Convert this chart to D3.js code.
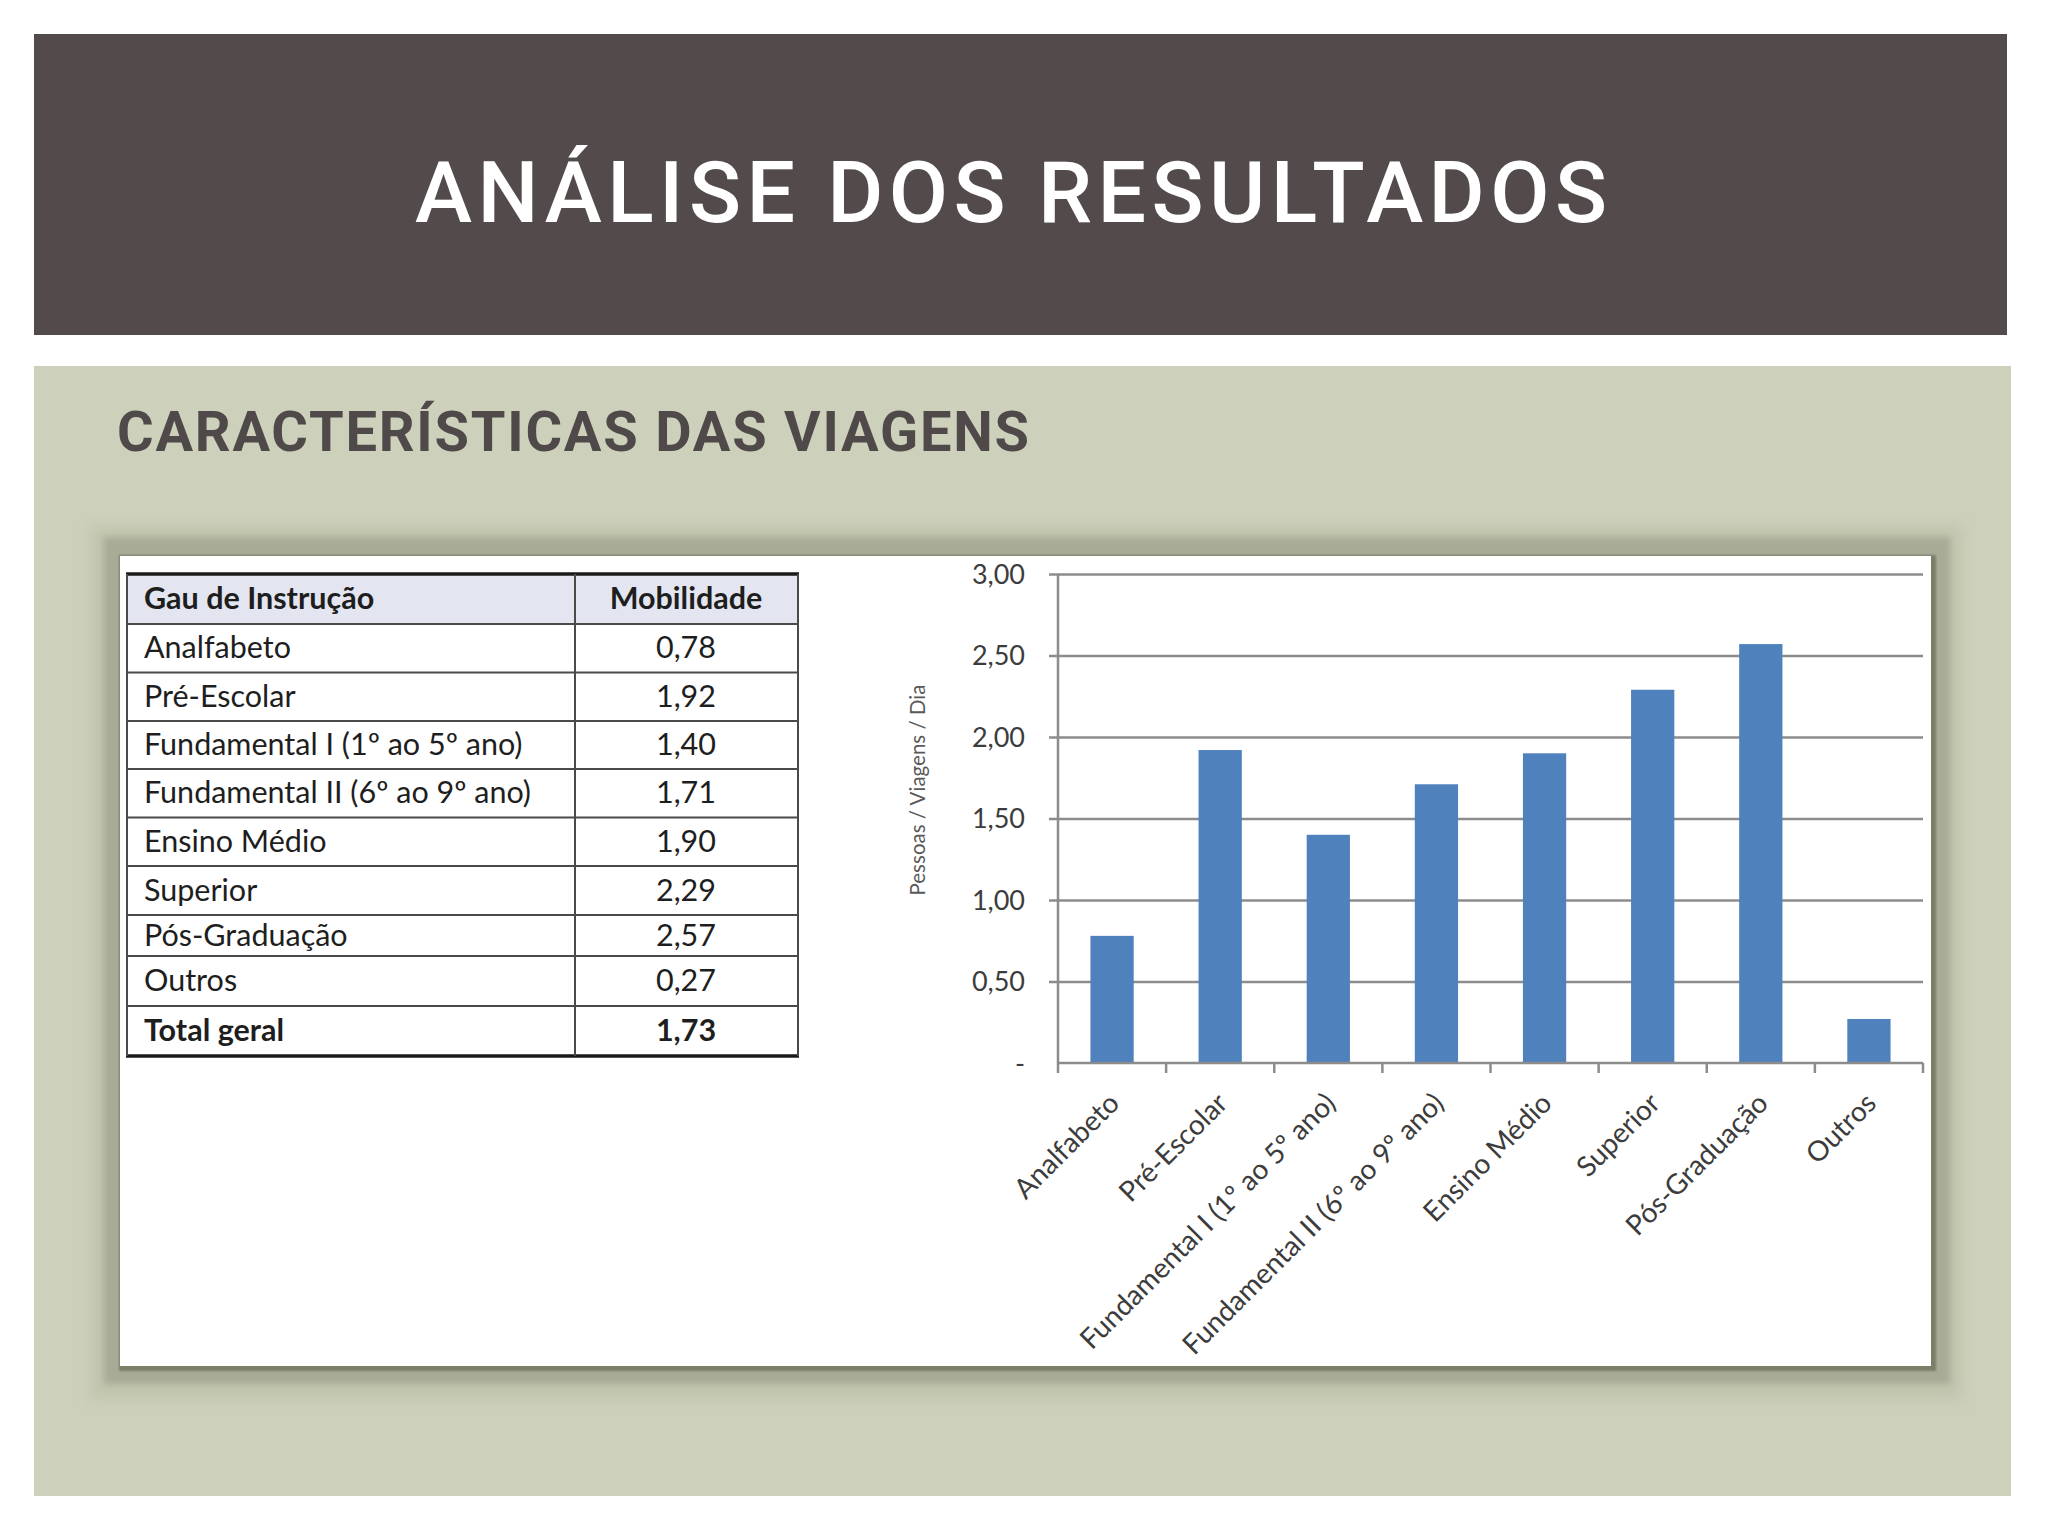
<!DOCTYPE html>
<html><head><meta charset="utf-8">
<script src="https://cdn.jsdelivr.net/npm/d3@7"></script>
<style>html,body{margin:0;padding:0;background:#fff;}svg{display:block;}</style>
</head><body>
<script>
// ---- data ----
const categories = ["Analfabeto","Pré-Escolar","Fundamental I (1º ao 5º ano)","Fundamental II (6º ao 9º ano)","Ensino Médio","Superior","Pós-Graduação","Outros"];
const values = [0.78,1.92,1.40,1.71,1.90,2.29,2.57,0.27];
const totalLabel = "Total geral";
const totalValue = 1.73;
const tableHeaders = ["Gau de Instrução","Mobilidade"];
const yTicks = [0,0.5,1,1.5,2,2.5,3];
const yTickLabels = ["-","0,50","1,00","1,50","2,00","2,50","3,00"];
const yTitle = "Pessoas / Viagens / Dia";
const title = "ANÁLISE DOS RESULTADOS";
const subtitle = "CARACTERÍSTICAS DAS VIAGENS";

const W = 2048, H = 1536;
const svg = d3.select("body").append("svg").attr("width", W).attr("height", H);
const defs = svg.append("defs");
[["b6",7],["b3",3],["b1",1]].forEach(([id,s])=>{
  defs.append("filter").attr("id",id).attr("x","-10%").attr("y","-10%").attr("width","120%").attr("height","120%")
    .append("feGaussianBlur").attr("stdDeviation",s);
});

// header
svg.append("rect").attr("x",34).attr("y",34).attr("width",1973).attr("height",301).attr("fill","#524a4b");
svg.append("text").attr("x",415).attr("y",222).attr("textLength",1192).attr("lengthAdjust","spacing")
  .attr("font-family","Roboto").attr("font-size",86).attr("font-weight",500).attr("fill","#ffffff").text(title);

// panel
svg.append("rect").attr("x",34).attr("y",366).attr("width",1977).attr("height",1130).attr("fill","#cdd0ba");
svg.append("text").attr("x",117).attr("y",451).attr("textLength",912).attr("lengthAdjust","spacing")
  .attr("font-family","Roboto").attr("font-size",56).attr("font-weight",700).attr("fill","#4f4a49").text(subtitle);

// picture frame with shadow
svg.append("rect").attr("x",90).attr("y",526).attr("width",1872).attr("height",874).attr("fill","#c1c4ad").attr("filter","url(#b6)");
svg.append("rect").attr("x",104).attr("y",537).attr("width",1846).attr("height",847).attr("fill","#a8ab96").attr("filter","url(#b3)");
svg.append("rect").attr("x",119).attr("y",555).attr("width",1817).attr("height",816).attr("fill","#7b7e68").attr("filter","url(#b1)");
svg.append("rect").attr("x",120).attr("y",556).attr("width",1811).attr("height",810).attr("fill","#ffffff");

// ---- table ----
const tbl = svg.append("g");
const colX = [127,575,798];
const rowY = [574,624,672.5,721,769,817.5,866,915,956,1006,1056];
const rows = [tableHeaders].concat(categories.map((c,i)=>[c, d3.format(".2f")(values[i]).replace(".",",")]))
  .concat([[totalLabel, d3.format(".2f")(totalValue).replace(".",",")]]);
tbl.append("rect").attr("x",colX[0]).attr("y",rowY[0]).attr("width",colX[2]-colX[0]).attr("height",rowY[1]-rowY[0]).attr("fill","#e3e6f0");
rows.forEach((r,i)=>{
  const y0 = rowY[i], y1 = rowY[i+1], yc = (y0+y1)/2;
  const bold = (i===0 || i===rows.length-1);
  tbl.append("text").attr("x",144).attr("y",yc+10).attr("font-family","Lato").attr("font-size",30.5)
    .attr("font-weight",bold?700:400).attr("fill","#1e1e1e").text(r[0]);
  tbl.append("text").attr("x",686).attr("y",yc+10).attr("text-anchor","middle").attr("font-family","Lato").attr("font-size",30.5)
    .attr("font-weight",bold?700:400).attr("fill","#1e1e1e").text(r[1]);
});
rowY.forEach((y,i)=>{
  const thick = (i===0 || i===rowY.length-1);
  tbl.append("line").attr("x1",colX[0]-1).attr("x2",colX[2]+1).attr("y1",y).attr("y2",y)
    .attr("stroke",thick?"#1a1a1a":"#4a4a4a").attr("stroke-width",thick?3.5:2);
});
colX.forEach(x=>{
  tbl.append("line").attr("x1",x).attr("x2",x).attr("y1",rowY[0]).attr("y2",rowY[rowY.length-1])
    .attr("stroke","#4a4a4a").attr("stroke-width",2);
});

// ---- chart ----
const x0 = 1058, x1 = 1923, yTop = 574, yBot = 1063;
const x = d3.scaleBand().domain(categories).range([x0,x1]).paddingInner(0.6).paddingOuter(0.3);
const y = d3.scaleLinear().domain([0,3]).range([yBot,yTop]);
const ch = svg.append("g");

// gridlines + y axis
const yAxis = d3.axisLeft(y).tickValues(yTicks).tickSize(-(x1-x0)).tickSizeOuter(0)
  .tickFormat((d,i)=>yTickLabels[i]).tickPadding(33);
const gy = ch.append("g").attr("transform",`translate(${x0},0)`).call(yAxis);
gy.select(".domain").remove();
gy.selectAll(".tick line").attr("stroke","#8c8c8c").attr("stroke-width",2.5).attr("x1",-9);
gy.selectAll(".tick text").attr("font-family","Lato").attr("font-size",27).attr("fill","#3c3c3c").attr("dy","0.35em");
gy.selectAll(".tick").filter(d=>d===0).select("line").remove();

// bars
ch.selectAll("rect.bar").data(values).join("rect").attr("class","bar")
  .attr("x",(d,i)=>x(categories[i])).attr("width",x.bandwidth())
  .attr("y",d=>y(d)).attr("height",d=>yBot-y(d)).attr("fill","#4f81bd");

// y axis line
ch.append("line").attr("x1",x0).attr("x2",x0).attr("y1",yTop).attr("y2",yBot).attr("stroke","#8c8c8c").attr("stroke-width",2.5);

// x axis
const xb = d3.scaleBand().domain(categories).range([x0,x1]);
const gx = ch.append("g").attr("transform",`translate(0,${yBot})`);
gx.append("line").attr("x1",x0).attr("x2",x1).attr("stroke","#8c8c8c").attr("stroke-width",2.5);
const bounds = categories.map(c=>xb(c)).concat([x1]);
gx.selectAll("line.tk").data(bounds).join("line").attr("class","tk")
  .attr("x1",d=>d).attr("x2",d=>d).attr("y1",0).attr("y2",10).attr("stroke","#8c8c8c").attr("stroke-width",2.5);
gx.selectAll("text").data(categories).join("text")
  .attr("transform",d=>`translate(${xb(d)+xb.bandwidth()/2+9},42) rotate(-45)`)
  .attr("text-anchor","end").attr("font-family","Lato").attr("font-size",28).attr("fill","#3c3c3c").text(d=>d);

// y title
ch.append("text").attr("transform","translate(925,790) rotate(-90)").attr("text-anchor","middle")
  .attr("font-family","Lato").attr("font-size",20.5).attr("fill","#595959").text(yTitle);
</script>
</body></html>
